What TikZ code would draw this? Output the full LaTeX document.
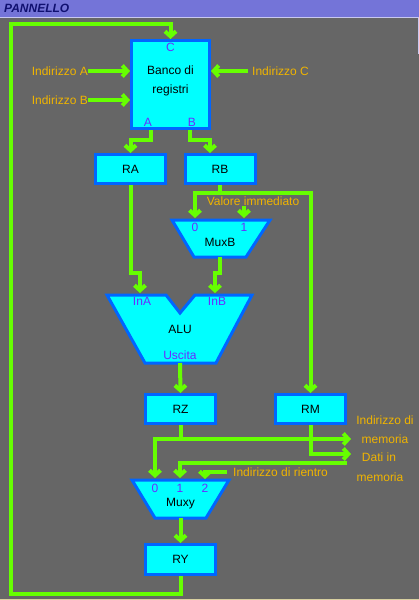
\documentclass[tikz,border=0pt]{standalone}
\usepackage{fontspec}
\setmainfont{Liberation Sans}
\usetikzlibrary{arrows.meta,calc}
\definecolor{bgc}{HTML}{666666}
\definecolor{barc}{HTML}{7474D8}
\definecolor{wirec}{HTML}{66FF00}
\definecolor{boxfill}{HTML}{00FFFF}
\definecolor{boxline}{HTML}{0066FF}
\definecolor{portc}{HTML}{6A2CFF}
\definecolor{extc}{HTML}{F0B400}
\definecolor{titlec}{HTML}{101070}
\definecolor{lavc}{HTML}{C8C8F0}
\definecolor{botc}{HTML}{D8D0A0}
\tikzset{
  txt/.style={font=\fontsize{12}{14}\selectfont, inner sep=0pt, text height=8.6pt, text depth=0pt},
  regbox/.style={draw=boxline, fill=boxfill, line width=3pt, minimum width=70pt, minimum height=29pt, txt, text=black},
  unit/.style={draw=boxline, fill=boxfill, line width=3pt, line join=miter},
  port/.style={txt, text=portc},
  ext/.style={txt, text=extc},
  wire/.style={draw=wirec, line width=4pt},
  arr/.style={wire, -{Straight Barb[length=5pt,width=11pt]}},
}
\begin{document}
\begin{tikzpicture}[x=1pt,y=-1pt]
\useasboundingbox (0,0) rectangle (419,600);
\fill[bgc] (0,0) rectangle (419,600);
\fill[barc] (0,0) rectangle (419,17);
\draw[lavc, line width=1pt] (0,17.5) -- (419,17.5);
\draw[lavc, line width=1pt] (418.5,18) -- (418.5,54);
\draw[botc, line width=1.5pt] (0,599.3) -- (419,599.3);
\node[txt, anchor=west, text=titlec, font=\fontsize{12}{14}\selectfont\bfseries\itshape] (title) at (4,8.5) {PANNELLO};

% register bank
\node[draw=boxline, fill=boxfill, line width=3pt, minimum width=78pt, minimum height=88pt] (banco) at (170.5,84.5) {};
\node[txt] (bancotxt1) at (170.5,70) {Banco di};
\node[txt] (bancotxt2) at (170.5,89) {registri};
\node[port] (pC) at (170.5,47) {C};
\node[port] (pA) at (148,122) {A};
\node[port] (pB) at (192,122) {B};
\coordinate (outA) at (151,130);
\coordinate (outB) at (190,130);

% registers
\node[regbox] (RA) at (130.5,169) {RA};
\node[regbox] (RB) at (220,169) {RB};
\node[regbox] (RZ) at (180.5,409) {RZ};
\node[regbox] (RM) at (310.5,409) {RM};
\node[regbox, minimum height=30pt] (RY) at (180.5,559.5) {RY};
\coordinate (inRB) at (210,153);

% MuxB
\draw[unit] (172,220) -- (270,220) -- (246,257) -- (194,257) -- cycle;
\node[txt] (muxb) at (220,242) {MuxB};
\node[port] (mb0) at (195,227) {0};
\node[port] (mb1) at (244,227) {1};
\coordinate (mbin0) at (195,218);
\coordinate (mbin1) at (244,218);
\coordinate (mbout) at (220,257);

% ALU
\draw[unit] (107,295) -- (166,295) -- (180,313) -- (195,295) -- (252,295) -- (216,363) -- (145,363) -- cycle;
\node[txt] (alu) at (180,329) {ALU};
\node[port] (inA) at (142,301) {InA};
\node[port] (inB) at (217,301) {InB};
\node[port] (usc) at (180,355) {Uscita};
\coordinate (aluinA) at (140,293);
\coordinate (aluinB) at (215,293);
\coordinate (aluout) at (180,363);

% Muxy
\draw[unit] (132,480) -- (229,480) -- (206,518) -- (155,518) -- cycle;
\node[txt] (muxy) at (180.5,502) {Muxy};
\node[port] (my0) at (155,488) {0};
\node[port] (my1) at (180,488) {1};
\node[port] (my2) at (205,488) {2};
\coordinate (myin0) at (155,478);
\coordinate (myin1) at (180,478);
\coordinate (myin2) at (205,479);
\coordinate (myout) at (180.5,518);

% external labels
\node[ext, anchor=east] (iA) at (88,71) {Indirizzo A};
\node[ext, anchor=east] (iB) at (88,100) {Indirizzo B};
\node[ext, anchor=west] (iC) at (252,71) {Indirizzo C};
\node[ext] (vi) at (253,201) {Valore immediato};
\node[ext] (im1) at (385,420) {Indirizzo di};
\node[ext] (im2) at (385,439) {memoria};
\node[ext] (dm1) at (379,457) {Dati in};
\node[ext] (dm2) at (380,477) {memoria};
\node[ext, anchor=west] (ir) at (233,472) {Indirizzo di rientro};
\coordinate (memA) at (351,439);
\coordinate (memD) at (351,454);
\coordinate (memR) at (347,463);

% wires
\draw[arr] (RY.south) |- (10.5,594) |- (170.5,24) -- (banco.north);
\draw[arr] (iA.east) -- (banco.west |- iA.east);
\draw[arr] (iB.east) -- (banco.west |- iB.east);
\draw[arr] ($(iC.west)+(-4,0)$) -- (banco.east |- iC.west);
\draw[arr] (outA) |- (130.5,140) -- (RA.north);
\draw[arr] (outB) |- (210,140) -- (inRB);
\draw[arr] (RA.south) |- (140,273) -- (aluinA);
\draw[arr] (RB.south) -- (220,193) -| (mbin0);
\draw[arr] (RB.south) -- (220,193) -| (RM.north);
\draw[arr] (vi.south -| mbin1) -- (mbin1);
\draw[arr] (mbout) |- (215,273) -- (aluinB);
\draw[arr] (aluout) -- (RZ.north);
\draw[arr] (RZ.south) |- (memA);
\draw[arr] (RZ.south) |- (155,439) -- (myin0);
\draw[arr] (RM.south) |- (memD);
\draw[arr] (memR) -| (myin1);
\draw[arr] ($(ir.west)+(-6,0)$) -| (myin2);
\draw[arr] (myout) -- (RY.north);
\end{tikzpicture}
\end{document}
